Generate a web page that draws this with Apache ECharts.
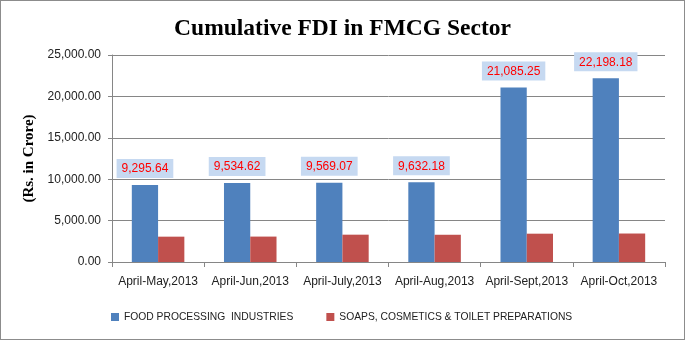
<!DOCTYPE html>
<html><head><meta charset="utf-8">
<script src="https://cdn.jsdelivr.net/npm/echarts@6/dist/echarts.min.js"></script>
<style>html,body{margin:0;padding:0;background:#fff}#c{width:685px;height:340px;box-sizing:border-box;border:1px solid #8c8c8c}</style>
</head><body><div id="c"></div>
<script>
const categories = ['April-May,2013','April-Jun,2013','April-July,2013','April-Aug,2013','April-Sept,2013','April-Oct,2013'];
const foodProcessing = [9295.64, 9534.62, 9569.07, 9632.18, 21085.25, 22198.18];
const soapsCosmetics = [3060, 3070, 3300, 3290, 3420, 3440];
const yTicks = [0, 5000, 10000, 15000, 20000, 25000];

const fmt = v => v.toLocaleString('en-US',{minimumFractionDigits:2,maximumFractionDigits:2});
const chart = echarts.init(document.getElementById('c'), null, {renderer:'canvas'});
chart.setOption({
  animation:false,
  title:{text:'Cumulative FDI in FMCG Sector', left:'center', top:11,
    textStyle:{fontFamily:'Liberation Serif', fontWeight:'bold', fontSize:23.5, color:'#000'}},
  grid:{left:111, right:19, top:54, bottom:77, containLabel:false},
  legend:{bottom:12, left:105, itemWidth:8, itemHeight:8, itemGap:33, icon:'rect',
    textStyle:{fontFamily:'Liberation Sans', fontSize:10.3, color:'#222'},
    data:['FOOD PROCESSING  INDUSTRIES','SOAPS, COSMETICS & TOILET PREPARATIONS']},
  xAxis:{type:'category', data:categories,
    axisLine:{lineStyle:{color:'#868686'}},
    axisTick:{show:true, length:5, lineStyle:{color:'#868686'}},
    axisLabel:{interval:0, fontFamily:'Liberation Sans', fontSize:12, color:'#222', margin:14}},
  yAxis:{type:'value', min:yTicks[0], max:yTicks[yTicks.length-1], interval:5000,
    name:'(Rs. in Crore)', nameLocation:'middle', nameGap:75, nameRotate:90,
    nameTextStyle:{fontFamily:'Liberation Serif', fontWeight:'bold', fontSize:15, color:'#000'},
    axisLine:{show:true, lineStyle:{color:'#868686'}},
    axisTick:{show:true, length:4, lineStyle:{color:'#868686'}},
    splitLine:{lineStyle:{color:'#868686'}},
    axisLabel:{fontFamily:'Liberation Sans', fontSize:12, color:'#222', margin:11, formatter:v=>fmt(v)}},
  series:[
    {name:'FOOD PROCESSING  INDUSTRIES', type:'bar', data:foodProcessing, barGap:'0%', barCategoryGap:'43%',
      itemStyle:{color:'#4F81BD'},
      label:{show:true, position:'top', distance:7, formatter:p=>fmt(p.value),
        fontFamily:'Liberation Sans', fontSize:12, color:'#FF0000', backgroundColor:'#C6D9F1', padding:[4,5,3,5]}},
    {name:'SOAPS, COSMETICS & TOILET PREPARATIONS', type:'bar', data:soapsCosmetics,
      itemStyle:{color:'#C0504D'}}
  ]
});
</script></body></html>
